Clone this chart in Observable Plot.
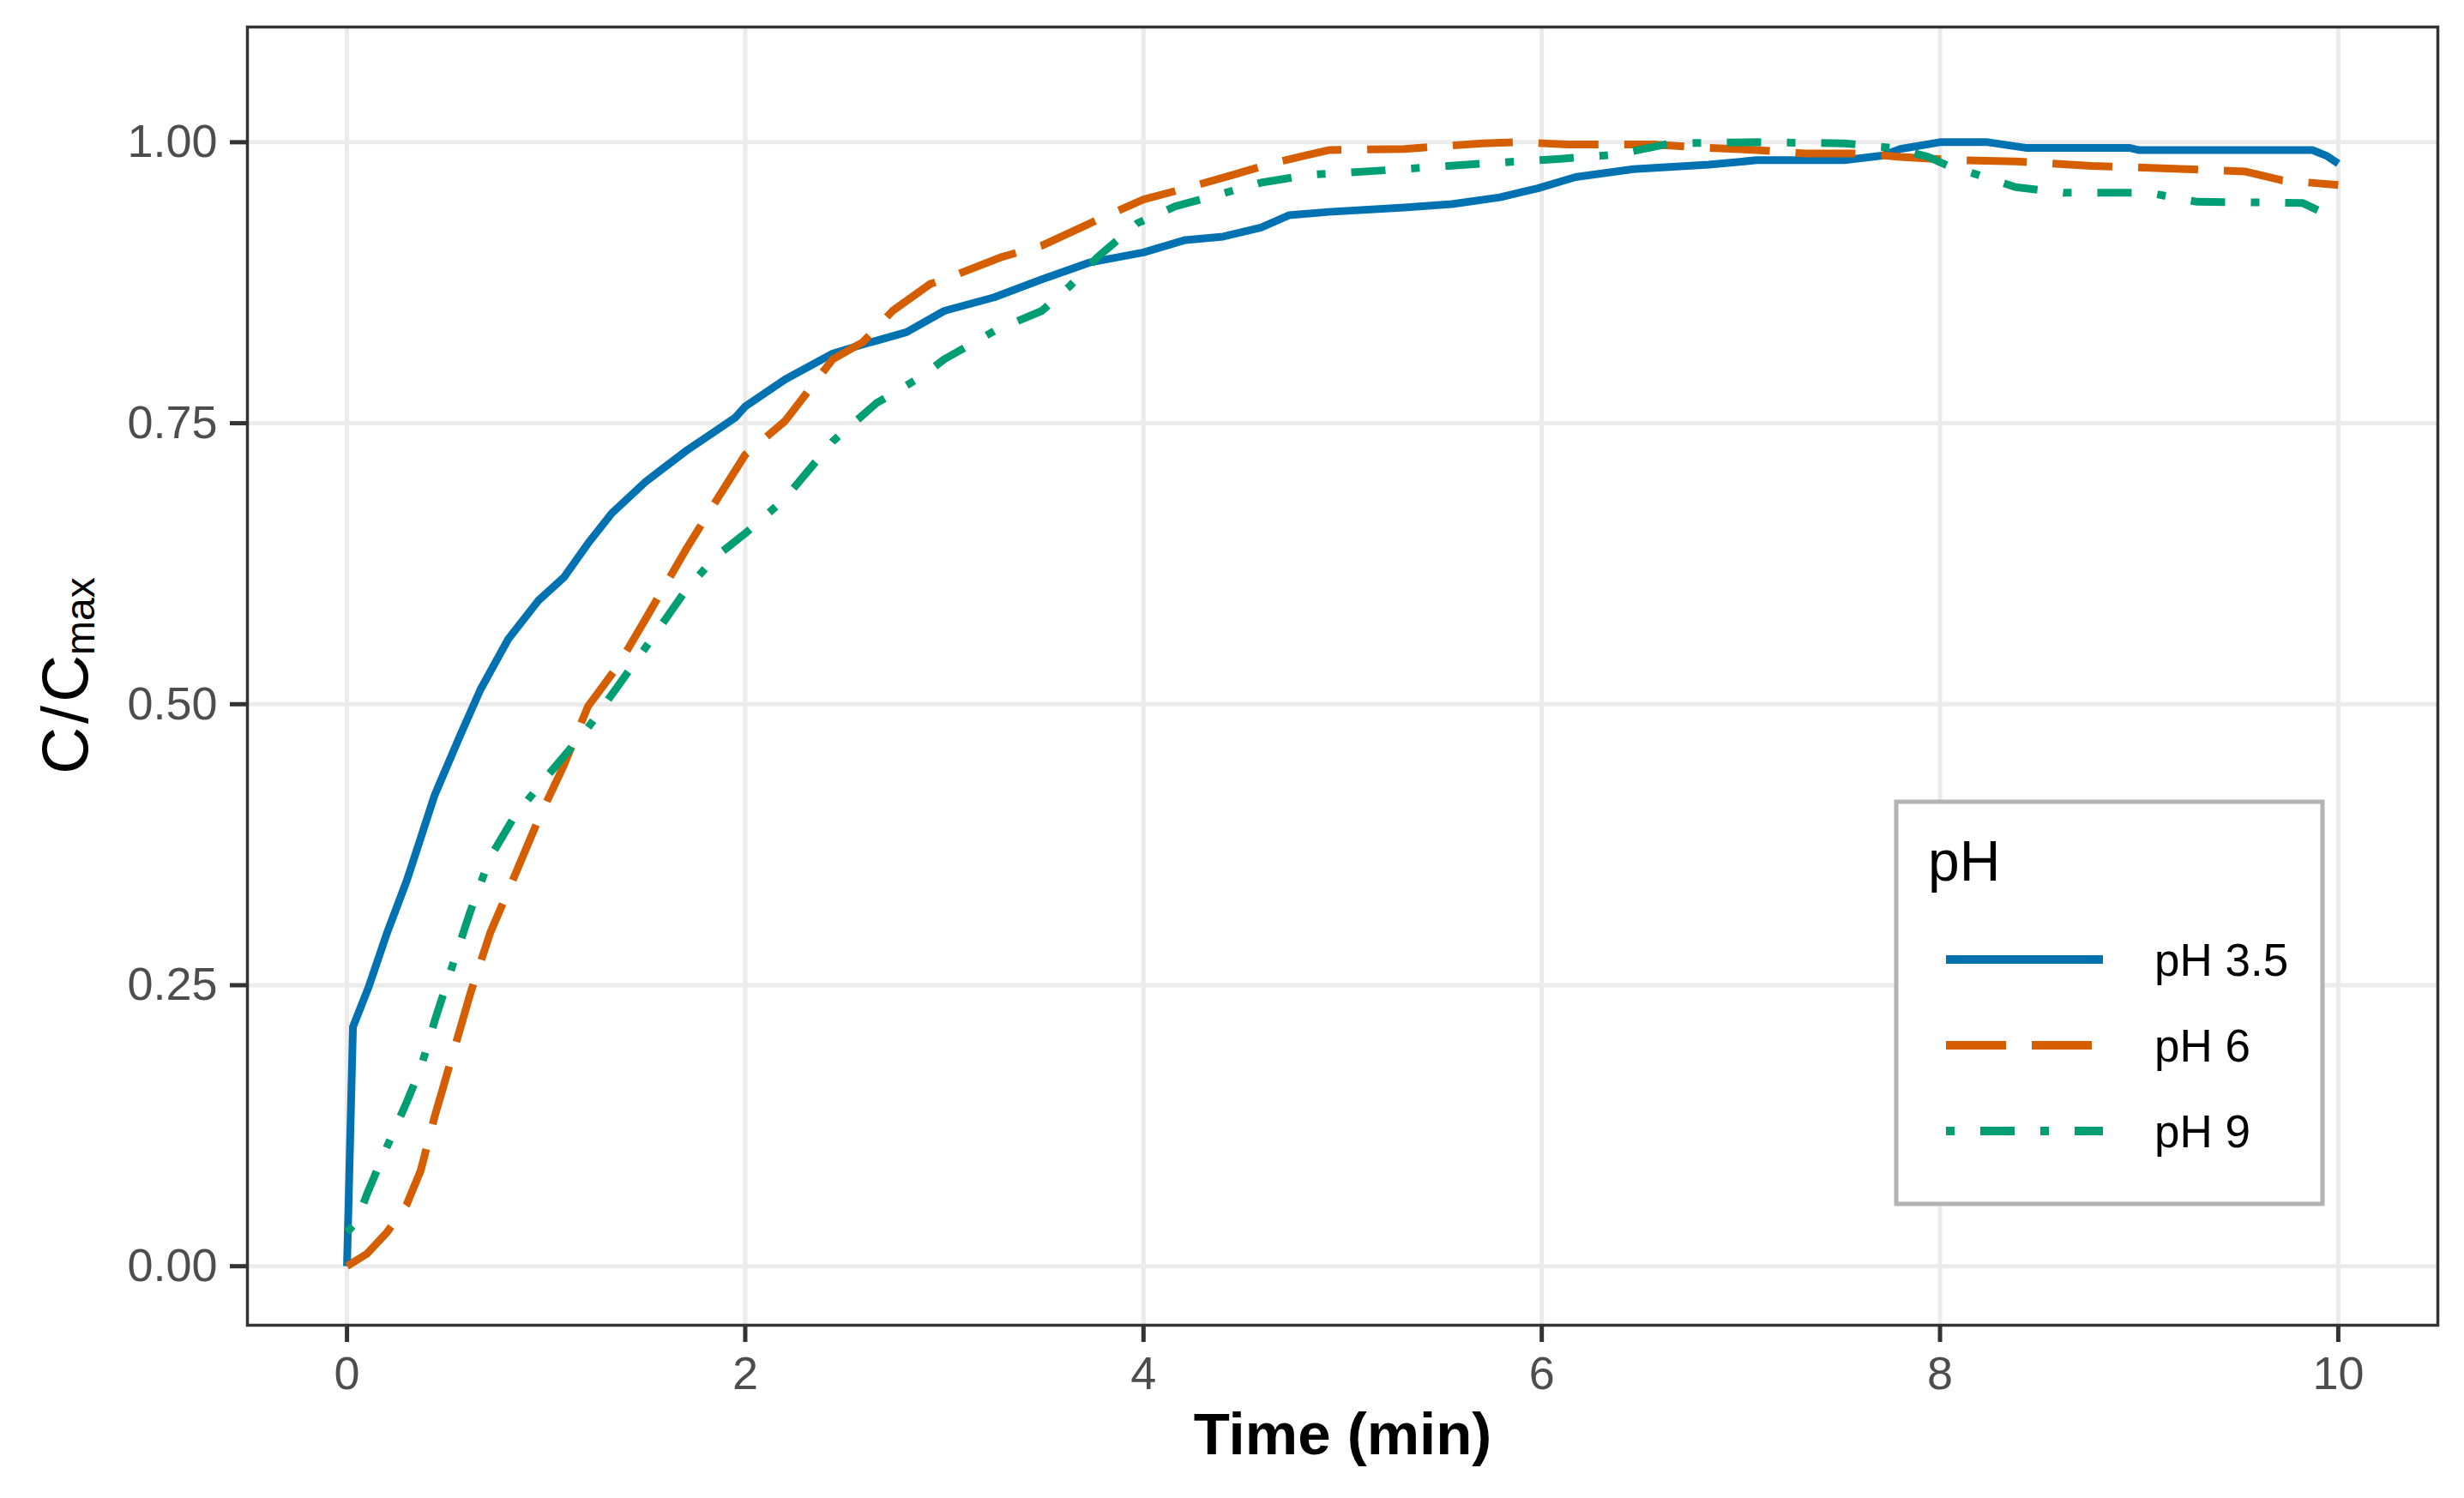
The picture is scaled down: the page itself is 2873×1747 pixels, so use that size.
<!DOCTYPE html>
<html>
<head>
<meta charset="utf-8">
<script src="https://cdn.jsdelivr.net/npm/d3@7"></script>
<script src="https://cdn.jsdelivr.net/npm/@observablehq/plot@0.6"></script>
<style>
  html, body { margin: 0; padding: 0; background: #ffffff; }
  #chart { width: 2873px; height: 1747px; }
</style>
</head>
<body>
<div id="chart"></div>
<script>
// ---- Data ----
const seriesNames = ["pH 3.5", "pH 6", "pH 9"];
const seriesColors = ["#0072B2", "#D55E00", "#009E73"];
const seriesDashes = [null, "70,30", "10,30,40,30"];

const timePH35 = [0, 0.03, 0.11, 0.20, 0.30, 0.35, 0.44, 0.57, 0.67, 0.81, 0.96, 1.09, 1.21, 1.33, 1.50, 1.70, 1.95, 2.0, 2.2, 2.44, 2.59, 2.81, 3.0, 3.25, 3.49, 3.73, 4.0, 4.21, 4.40, 4.59, 4.73, 4.93, 5.31, 5.55, 5.79, 5.98, 6.17, 6.46, 6.84, 7.08, 7.52, 7.71, 7.80, 8.0, 8.24, 8.43, 8.95, 9.0, 9.87, 9.94, 10.0];
const valuePH35 = [0, 0.213, 0.249, 0.296, 0.343, 0.370, 0.419, 0.473, 0.513, 0.558, 0.592, 0.613, 0.643, 0.670, 0.698, 0.725, 0.755, 0.765, 0.789, 0.812, 0.820, 0.831, 0.850, 0.862, 0.878, 0.893, 0.902, 0.913, 0.916, 0.924, 0.935, 0.938, 0.942, 0.945, 0.951, 0.959, 0.969, 0.976, 0.980, 0.984, 0.984, 0.988, 0.994, 1.0, 1.0, 0.995, 0.995, 0.993, 0.993, 0.988, 0.981];

const timePH6 = [0, 0.10, 0.20, 0.30, 0.37, 0.44, 0.54, 0.62, 0.72, 0.81, 0.96, 1.09, 1.21, 1.36, 1.50, 1.70, 1.85, 2.0, 2.2, 2.44, 2.59, 2.74, 2.93, 3.0, 3.29, 3.49, 3.77, 4.0, 4.21, 4.45, 4.64, 4.93, 5.31, 5.70, 5.89, 6.13, 6.56, 6.84, 7.08, 7.32, 7.61, 7.80, 8.09, 8.38, 8.76, 9.24, 9.53, 9.72, 10.0];
const valuePH6 = [0, 0.011, 0.030, 0.055, 0.085, 0.133, 0.194, 0.243, 0.297, 0.334, 0.397, 0.446, 0.498, 0.534, 0.576, 0.637, 0.680, 0.722, 0.752, 0.807, 0.822, 0.850, 0.874, 0.878, 0.898, 0.908, 0.931, 0.949, 0.959, 0.971, 0.981, 0.993, 0.994, 0.999, 1.0, 0.998, 0.998, 0.995, 0.993, 0.990, 0.990, 0.987, 0.984, 0.983, 0.979, 0.976, 0.974, 0.966, 0.962];

const timePH9 = [0, 0.05, 0.10, 0.20, 0.30, 0.37, 0.44, 0.54, 0.62, 0.72, 0.84, 1.01, 1.21, 1.36, 1.53, 1.70, 1.85, 2.0, 2.2, 2.44, 2.66, 2.89, 3.0, 3.25, 3.49, 3.63, 3.77, 3.97, 4.16, 4.35, 4.59, 4.83, 5.21, 5.70, 6.08, 6.37, 6.65, 7.08, 7.52, 7.76, 7.94, 8.04, 8.19, 8.38, 8.62, 9.05, 9.29, 9.82, 10.0];
const valuePH9 = [0.03, 0.04, 0.064, 0.106, 0.146, 0.176, 0.218, 0.273, 0.316, 0.364, 0.400, 0.437, 0.479, 0.516, 0.558, 0.601, 0.631, 0.652, 0.683, 0.734, 0.768, 0.792, 0.807, 0.832, 0.850, 0.872, 0.898, 0.928, 0.943, 0.952, 0.964, 0.971, 0.975, 0.981, 0.985, 0.989, 0.999, 1.0, 0.999, 0.995, 0.987, 0.979, 0.971, 0.960, 0.955, 0.955, 0.947, 0.946, 0.931];

const xTicks = [0, 2, 4, 6, 8, 10];
const yTicks = [0, 0.25, 0.5, 0.75, 1.0];
const xTitle = "Time (min)";
const yTitleMain = "C/C";
const yTitleSub = "max";
const legendTitle = "pH";

// ---- Build tables ----
const times = [timePH35, timePH6, timePH9];
const values = [valuePH35, valuePH6, valuePH9];
const tables = seriesNames.map((name, i) => times[i].map((t, j) => ({series: name, t, v: values[i][j]})));

const FONT = "'Liberation Sans', Arial, Helvetica, sans-serif";

const lineMarks = tables.map((tbl, i) => Plot.line(tbl, {
  x: "t", y: "v",
  stroke: seriesColors[i],
  strokeWidth: 9,
  strokeDasharray: seriesDashes[i],
  strokeLinecap: "butt",
  strokeLinejoin: "round"
}));

const plot = Plot.plot({
  width: 2873,
  height: 1747,
  marginLeft: 288,
  marginRight: 31,
  marginTop: 31,
  marginBottom: 202,
  style: {fontFamily: FONT, background: "#ffffff", overflow: "visible"},
  x: {domain: [-0.5, 10.5]},
  y: {domain: [-0.0525, 1.1025]},
  marks: [
    Plot.gridX(xTicks, {stroke: "#ebebeb", strokeOpacity: 1, strokeWidth: 5}),
    Plot.gridY(yTicks, {stroke: "#ebebeb", strokeOpacity: 1, strokeWidth: 5}),
    ...lineMarks,
    Plot.frame({stroke: "#333333", strokeWidth: 3.5}),
    Plot.axisX(xTicks, {
      tickSize: 20, tickPadding: 16, stroke: "#333333", strokeWidth: 5,
      fill: "#4d4d4d", fontSize: 54, label: null, tickFormat: d => String(d)
    }),
    Plot.axisY(yTicks, {
      tickSize: 20, tickPadding: 15, stroke: "#333333", strokeWidth: 5,
      fill: "#4d4d4d", fontSize: 54, label: null, tickFormat: d3.format(".2f")
    }),
    Plot.text([xTitle], {
      frameAnchor: "bottom", dy: 150, fontSize: 69, fontWeight: "bold",
      fill: "#000000", text: d => d
    })
  ]
});

document.getElementById("chart").appendChild(plot);

// ---- Y-axis title with subscript ----
const svg = d3.select(plot);
const yt = svg.append("text")
  .attr("transform", "translate(102,788) rotate(-90)")
  .attr("text-anchor", "middle")
  .attr("font-family", FONT)
  .attr("fill", "#000000")
  .attr("font-size", 76);
yt.append("tspan").text("C");
yt.append("tspan").attr("dx", 4).text("/");
yt.append("tspan").attr("dx", 4).text("C");
yt.append("tspan").attr("font-size", 48).attr("dy", 8).text(yTitleSub);

// ---- Legend (inside panel, bottom right) ----
const lg = svg.append("g").attr("font-family", FONT).attr("text-anchor", "start");
lg.append("rect")
  .attr("x", 2211).attr("y", 935).attr("width", 497).attr("height", 469)
  .attr("fill", "#ffffff").attr("stroke", "#b3b3b3").attr("stroke-width", 5);
lg.append("text")
  .attr("x", 2248).attr("y", 1027)
  .attr("text-anchor", "start")
  .attr("font-size", 66).attr("fill", "#000000")
  .text(legendTitle);
seriesNames.forEach((name, i) => {
  const cy = 1119 + i * 100;
  lg.append("line")
    .attr("x1", 2269).attr("x2", 2452).attr("y1", cy).attr("y2", cy)
    .attr("stroke", seriesColors[i]).attr("stroke-width", 10)
    .attr("stroke-linecap", "butt")
    .attr("stroke-dasharray", seriesDashes[i]);
  lg.append("text")
    .attr("x", 2512).attr("y", cy + 19)
    .attr("text-anchor", "start")
    .attr("font-size", 53).attr("fill", "#000000")
    .text(name);
});
</script>
</body>
</html>
